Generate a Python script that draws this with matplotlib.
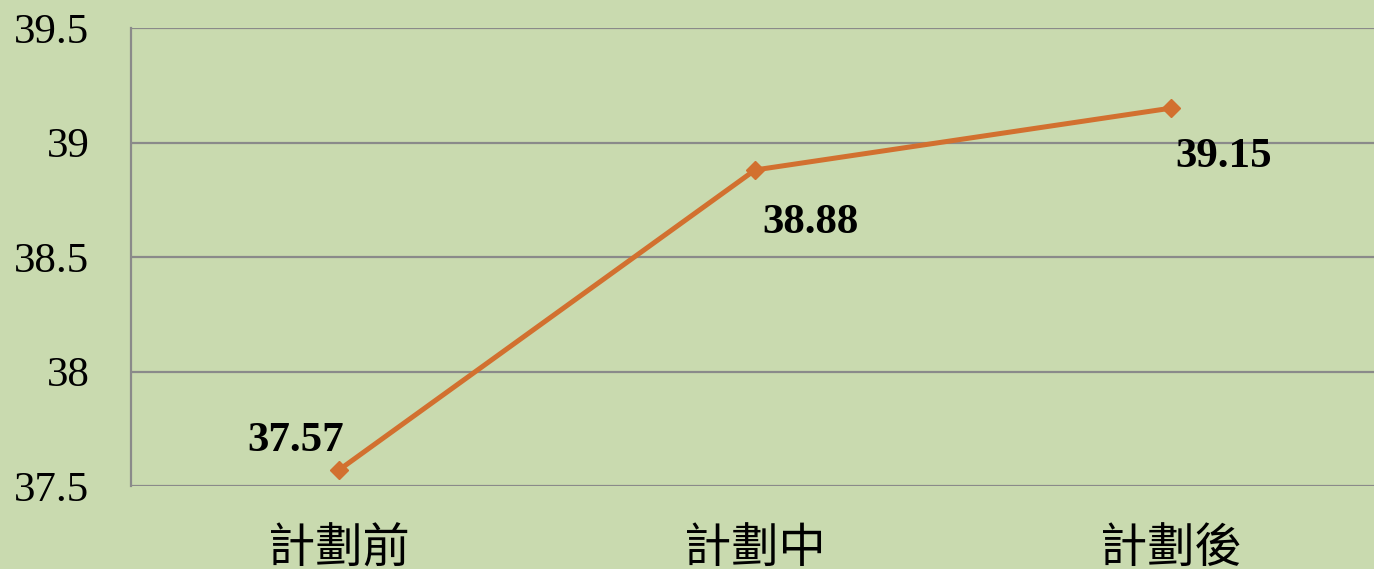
import matplotlib.pyplot as plt

# data
categories = ["計劃前", "計劃中", "計劃後"]
values = [37.57, 38.88, 39.15]
yticks = [37.5, 38, 38.5, 39, 39.5]
ytick_labels = ["37.5", "38", "38.5", "39", "39.5"]

bg = "#c9daaf"
line_color = "#d2702f"
grid_color = "#8a8a8a"

fig = plt.figure(figsize=(13.74, 5.69), dpi=100)
fig.patch.set_facecolor(bg)
ax = fig.add_axes([131 / 1374, 83 / 569, 1248 / 1374, 458 / 569])
ax.set_facecolor(bg)

x = list(range(len(categories)))
ax.plot(x, values, color=line_color, linewidth=3.6, marker="D", markersize=9,
        zorder=3, clip_on=False)

ax.set_xlim(-0.5, 2.5)
ax.set_ylim(37.5, 39.5)
ax.set_yticks(yticks)
ax.set_yticklabels(ytick_labels, family="Liberation Serif", fontsize=31)
ax.set_xticks(x)
ax.set_xticklabels(categories, family=["Noto Sans CJK TC", "DejaVu Sans"],
                   fontsize=34, fontweight="light")
ax.tick_params(axis="y", length=0, pad=30)
ax.tick_params(axis="x", length=0, pad=28)

ax.grid(axis="y", color=grid_color, linewidth=1.6)
ax.set_axisbelow(True)
for s in ["top", "right", "bottom"]:
    ax.spines[s].set_visible(False)
ax.spines["left"].set_color(grid_color)
ax.spines["left"].set_linewidth(1.6)

# data labels
offsets = [(-31, 21), (40, -38), (38, -35)]
for xi, v, (dx, dy) in zip(x, values, offsets):
    ax.annotate(f"{v:.2f}", (xi, v), xytext=(dx, dy), textcoords="offset points",
                ha="center", va="center", family="Liberation Serif",
                fontsize=31, fontweight="bold", zorder=4)

fig.savefig("out.png", dpi=100, facecolor=bg)
